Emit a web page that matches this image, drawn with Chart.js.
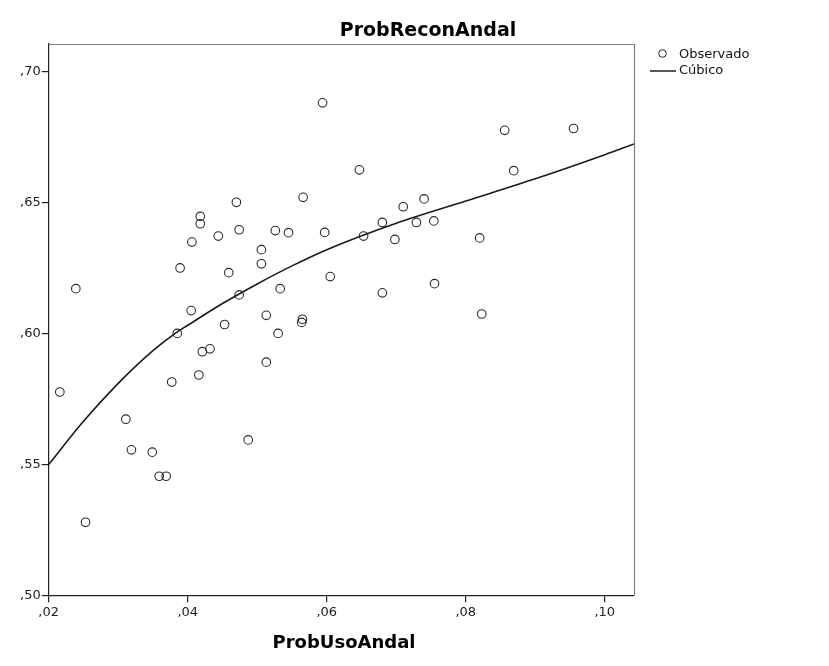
<!DOCTYPE html>
<html><head><meta charset="utf-8">
<script src="https://cdn.jsdelivr.net/npm/chart.js@4/dist/chart.umd.min.js"></script>
<style>html,body{margin:0;padding:0;background:#fff}#wrap{width:829px;height:666px;position:relative}</style>
</head><body><div id="wrap"><canvas id="c" width="829" height="666"></canvas></div>
<script>
const chartTitle = 'ProbReconAndal';
const xAxisTitle = 'ProbUsoAndal';
const legendLabels = ['Observado', 'Cúbico'];

// Observed points
const obsX = [0.0216,0.0239,0.0253,0.0311,0.0319,0.0349,0.0359,0.0369,0.0377,0.0385,
              0.0389,0.0405,0.0406,0.0416,0.0418,0.0418,0.0421,0.0432,0.0444,0.0453,
              0.0459,0.0470,0.0474,0.0474,0.0487,0.0506,0.0506,0.0513,0.0513,0.0526,
              0.0530,0.0533,0.0545,0.0566,0.0565,0.0564,0.0594,0.0597,0.0605,0.0647,
              0.0653,0.0680,0.0680,0.0698,0.0710,0.0729,0.0740,0.0754,0.0755,0.0820,
              0.0823,0.0856,0.0869,0.0955];
const obsY = [0.5777,0.6172,0.5279,0.5673,0.5556,0.5547,0.5455,0.5455,0.5815,0.6001,
              0.6251,0.6088,0.6350,0.5842,0.6448,0.6420,0.5931,0.5942,0.6373,0.6035,
              0.6233,0.6502,0.6397,0.6148,0.5594,0.6321,0.6267,0.6070,0.5891,0.6394,
              0.6001,0.6172,0.6386,0.6521,0.6055,0.6043,0.6882,0.6387,0.6218,0.6626,
              0.6373,0.6425,0.6156,0.6360,0.6485,0.6425,0.6515,0.6431,0.6191,0.6366,
              0.6075,0.6777,0.6623,0.6784];

// Fitted cubic curve
const fitX = [0.0200,0.0250,0.0300,0.0350,0.0384,0.0400,0.0450,0.0500,0.0550,0.0600,0.0700,0.0800,0.0900,0.1000,0.1042];
const fitY = [0.5500,0.5665,0.5810,0.5935,0.6005,0.6032,0.6115,0.6190,0.6259,0.6321,0.6422,0.6507,0.6592,0.6684,0.6725];

const xTicks = [0.02, 0.04, 0.06, 0.08, 0.10];
const yTicks = [0.50, 0.55, 0.60, 0.65, 0.70];
const xRange = [0.02, 0.1042];
const yRange = [0.50, 0.7107];

const fmt = v => ',' + v.toFixed(2).split('.')[1];
const FONT = '"DejaVu Sans", sans-serif';

const decor = {
  id: 'decor',
  afterDraw(chart) {
    const ctx = chart.ctx, a = chart.chartArea;
    ctx.save();
    // frame top/right
    ctx.strokeStyle = '#808080';
    ctx.lineWidth = 1.2;
    ctx.beginPath();
    ctx.moveTo(a.left, a.top + 0.5); ctx.lineTo(a.right + 0.5, a.top + 0.5); ctx.lineTo(a.right + 0.5, a.bottom);
    ctx.stroke();
    // titles
    ctx.fillStyle = '#000';
    ctx.textAlign = 'center'; ctx.textBaseline = 'middle';
    ctx.font = 'bold 19px ' + FONT;
    ctx.fillText(chartTitle, 428, 31);
    ctx.font = 'bold 18px ' + FONT;
    ctx.fillText(xAxisTitle, 344, 643);
    // legend
    ctx.font = '13px ' + FONT;
    ctx.textAlign = 'left';
    ctx.strokeStyle = '#222'; ctx.lineWidth = 1;
    ctx.beginPath(); ctx.arc(662.5, 53.5, 3.8, 0, Math.PI * 2); ctx.stroke();
    ctx.fillStyle = '#111';
    ctx.fillText(legendLabels[0], 679, 55);
    ctx.lineWidth = 1.5;
    ctx.beginPath(); ctx.moveTo(650, 71); ctx.lineTo(676, 71); ctx.stroke();
    ctx.fillText(legendLabels[1], 679, 71);
    ctx.restore();
  }
};

new Chart(document.getElementById('c'), {
  data: {
    datasets: [
      {
        type: 'scatter',
        label: legendLabels[0],
        data: obsX.map((x, i) => ({ x, y: obsY[i] })),
        pointStyle: 'circle',
        pointRadius: 4.3,
        pointHoverRadius: 4.3,
        pointBorderWidth: 1.1,
        pointBorderColor: '#2a2a2a',
        pointBackgroundColor: 'rgba(0,0,0,0)',
        order: 2
      },
      {
        type: 'line',
        label: legendLabels[1],
        data: fitX.map((x, i) => ({ x, y: fitY[i] })),
        borderColor: '#1a1a1a',
        borderWidth: 1.6,
        pointRadius: 0,
        fill: false,
        cubicInterpolationMode: 'monotone',
        order: 1
      }
    ]
  },
  options: {
    responsive: false,
    animation: false,
    devicePixelRatio: 1,
    layout: { padding: { left: 0, right: 195, top: 44, bottom: 0 } },
    plugins: { legend: { display: false }, title: { display: false }, tooltip: { enabled: false } },
    scales: {
      x: {
        type: 'linear',
        min: xRange[0], max: xRange[1],
        afterBuildTicks: s => { s.ticks = xTicks.map(v => ({ value: v })); },
        afterFit: s => { s.height = 70.7; },
        ticks: { callback: v => fmt(v), color: '#222', font: { family: FONT, size: 13 }, padding: 3, maxRotation: 0, autoSkip: false },
        grid: { drawOnChartArea: false, drawTicks: true, tickLength: 7, color: '#222', lineWidth: 1.2 },
        border: { display: true, color: '#222', width: 1.2 }
      },
      y: {
        type: 'linear',
        min: yRange[0], max: yRange[1],
        afterBuildTicks: s => { s.ticks = yTicks.map(v => ({ value: v })); },
        afterFit: s => { s.width = 48.7; },
        ticks: { callback: v => fmt(v), color: '#222', font: { family: FONT, size: 13 }, padding: 1, autoSkip: false },
        grid: { drawOnChartArea: false, drawTicks: true, tickLength: 7, color: '#222', lineWidth: 1.2 },
        border: { display: true, color: '#222', width: 1.2 }
      }
    }
  },
  plugins: [decor]
});
</script>
</body></html>
